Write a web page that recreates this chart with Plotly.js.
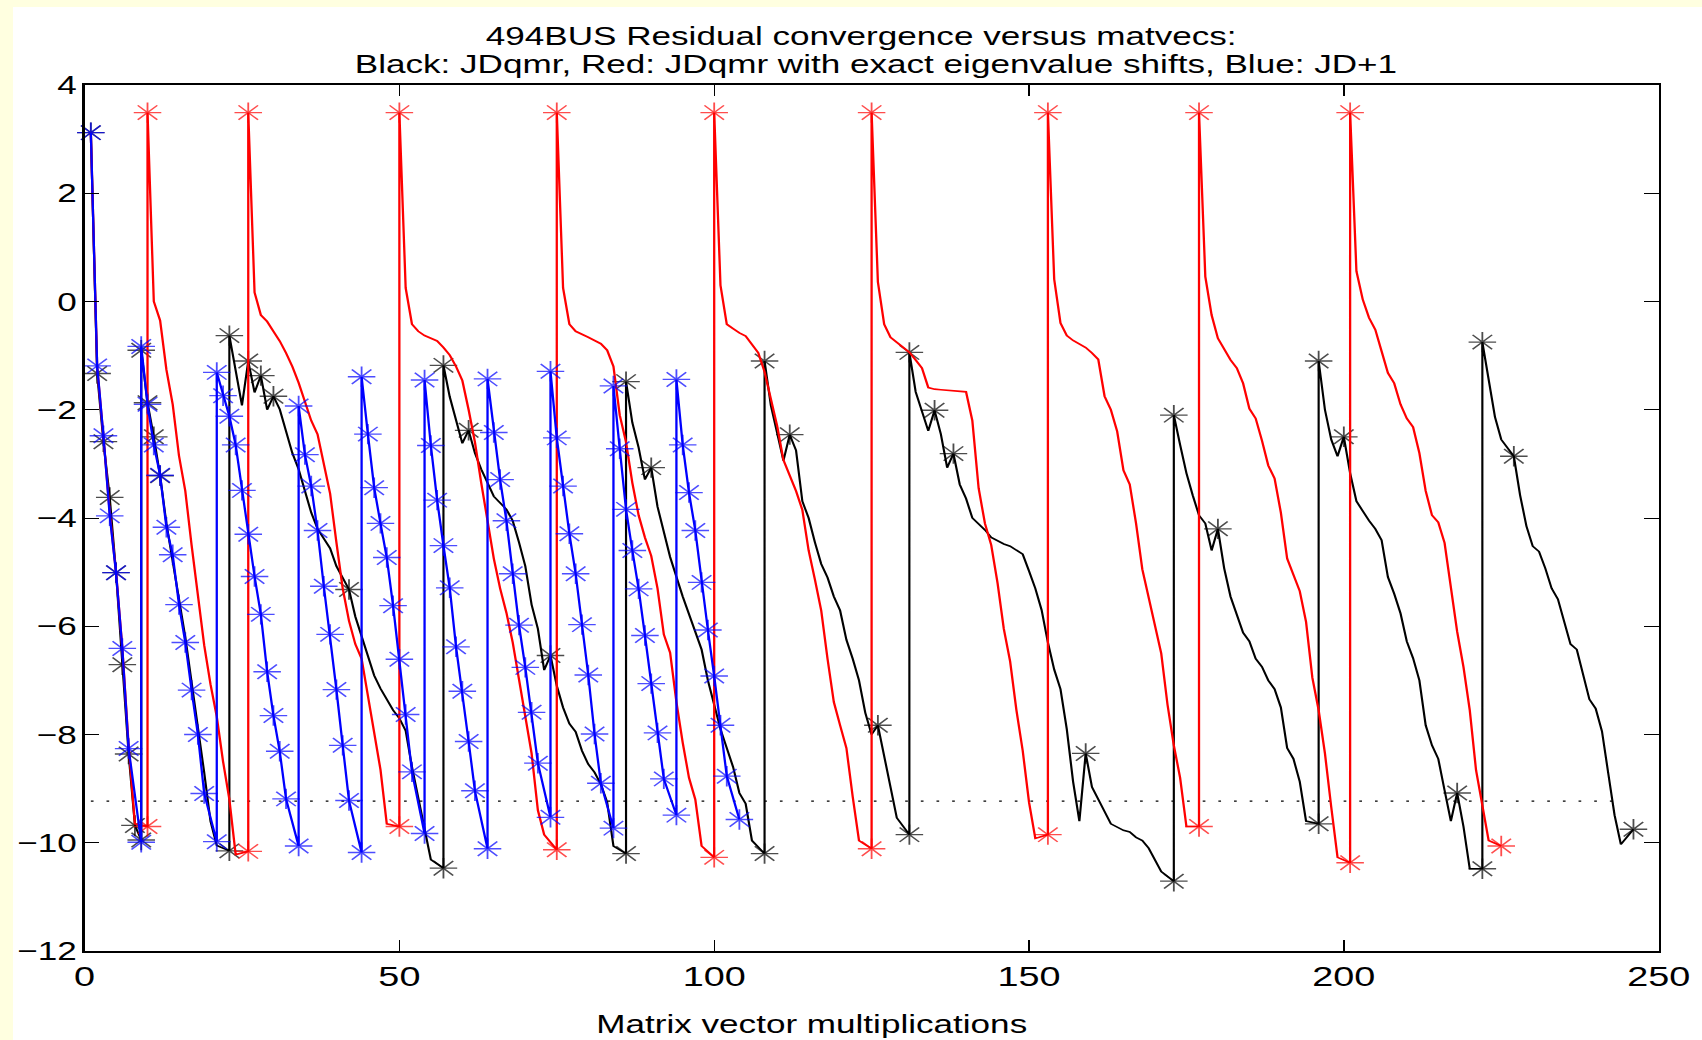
<!DOCTYPE html>
<html><head><meta charset="utf-8">
<script src="https://cdn.plot.ly/plotly-3.0.1.min.js"></script>
<style>
html,body{margin:0;padding:0;background:#ffffe0;width:1702px;height:1040px;overflow:hidden}
#frame{position:absolute;left:13px;top:7px;width:1689px;height:1033px;background:#fff;overflow:hidden}
#chart{width:1251px;height:1033px;transform:scaleX(1.35);transform-origin:0 0}
</style></head><body>
<div id="frame"><div id="chart"></div></div>
<script>
// ---- data (matvec count, log10 residual) ----
const titleLine1 = '494BUS Residual convergence versus matvecs:';
const titleLine2 = 'Black: JDqmr, Red: JDqmr with exact eigenvalue shifts, Blue: JD+1';
const xLabel = 'Matrix vector multiplications';
const xTicks = [0, 50, 100, 150, 200, 250];
const yTicks = [-12, -10, -8, -6, -4, -2, 0, 2, 4];

// convergence tolerance line
const tolX = [1, 244];
const tolY = [-9.23, -9.23];

// Black: JDqmr
const blackX = [1,2,3,4,5,6,7,8,9,
 9,10,11,12,13,14,15,16,17,18,19,20,21,23,
 23,25,26,27,28,29,30,31,32,33,34,35,36,37,39,40,42,43,44,45,46,47,48,49,50,51,52,53,54,55,57,
 57,58,59,60,61,62,63,64,65,67,68,69,70,71,72,73,74,75,76,77,78,79,80,81,82,83,84,86,
 86,87,88,89,90,91,93,95,97,98,99,100,101,103,104,105,106,108,
 108,109,111,112,113,114,115,116,117,118,119,120,121,122,123,124,125,126,127,128,129,131,
 131,132,134,135,136,137,138,139,140,141,143,144,146,147,149,150,151,152,153,154,155,156,157,158,159,160,161,162,163,165,166,167,168,169,170,171,173,
 173,174,175,176,177,178,179,180,181,182,183,184,185,186,187,188,189,190,191,192,193,194,196,
 196,197,198,199,200,201,202,204,205,206,207,208,209,210,211,212,213,214,215,216,217,218,219,220,222,
 222,223,224,225,227,228,229,230,231,232,233,234,235,236,237,238,239,240,241,242,243,244,246];
const blackY = [3.12,-1.33,-2.59,-3.62,-5.01,-6.71,-8.36,-9.68,-9.95,
 -0.9,-1.87,-2.5,-3.22,-4.1,-4.75,-5.5,-6.2,-7.0,-7.9,-8.7,-9.6,-10.05,-10.15,
 -0.63,-1.92,-1.1,-1.68,-1.37,-2.0,-1.75,-1.99,-2.38,-2.8,-3.1,-3.5,-3.9,-4.2,-4.56,-4.89,-5.32,-5.82,-6.2,-6.55,-6.91,-7.15,-7.35,-7.55,-7.7,-7.93,-8.6,-9.2,-9.75,-10.31,-10.47,
 -1.18,-1.76,-2.22,-2.62,-2.38,-2.8,-3.1,-3.34,-3.6,-3.84,-4.05,-4.45,-4.89,-5.6,-6.05,-6.81,-6.54,-7.1,-7.5,-7.8,-7.95,-8.3,-8.55,-8.7,-8.92,-9.25,-10.06,-10.2,
 -1.48,-2.24,-2.7,-3.29,-3.07,-3.79,-4.72,-5.45,-6.07,-6.43,-7.0,-7.45,-7.9,-8.6,-9.08,-9.28,-9.96,-10.2,
 -1.1,-1.92,-2.94,-2.46,-2.75,-3.69,-4.0,-4.45,-4.85,-5.1,-5.45,-5.71,-6.25,-6.6,-7.0,-7.6,-8.0,-7.83,-8.4,-9.03,-9.54,-9.85,
 -0.94,-1.67,-2.39,-2.01,-2.45,-3.07,-2.81,-3.38,-3.64,-4.0,-4.22,-4.36,-4.48,-4.52,-4.67,-4.98,-5.3,-5.7,-6.3,-6.8,-7.16,-7.9,-8.87,-9.6,-8.35,-8.97,-9.2,-9.45,-9.65,-9.77,-9.8,-9.9,-9.96,-10.1,-10.3,-10.53,-10.71,
 -2.1,-2.65,-3.17,-3.58,-3.95,-4.1,-4.6,-4.2,-4.93,-5.45,-5.8,-6.12,-6.28,-6.6,-6.75,-7.0,-7.16,-7.5,-8.25,-8.45,-8.87,-9.6,-9.65,
 -1.1,-2.0,-2.55,-2.86,-2.5,-3.17,-3.69,-4.05,-4.2,-4.41,-5.09,-5.4,-5.76,-6.28,-6.59,-7.0,-7.83,-8.2,-8.45,-9.03,-9.6,-9.08,-9.7,-10.48,-10.48,
 -0.75,-1.41,-2.13,-2.55,-2.86,-3.58,-4.15,-4.52,-4.62,-4.93,-5.3,-5.5,-5.95,-6.33,-6.43,-6.9,-7.35,-7.52,-7.94,-8.72,-9.49,-10.03,-9.75];
// black points carrying a star besides the restart (vertical) ends
const blackStarX = [1,2,3,4,5,6,7,8,10,11,12,26,28,30,42,61,74,90,112,126,135,138,159,180,200,218,227,246];

// Red: JDqmr with exact eigenvalue shifts
const redX = [1,2,3,4,5,6,7,8,10,
 10,11,12,13,14,15,16,17,18,19,20,21,22,23,24,26,
 26,27,28,29,30,31,32,33,34,35,36,37,38,39,40,41,42,43,44,45,46,47,48,50,
 50,51,52,53,54,55,56,57,58,59,60,61,62,63,64,65,66,67,68,69,70,71,72,73,75,
 75,76,77,78,79,80,81,82,83,84,85,86,87,88,89,90,91,92,93,94,95,96,97,98,100,
 100,101,102,103,104,105,106,107,108,109,110,111,112,113,114,115,116,117,118,119,120,121,122,123,125,
 125,126,127,128,129,130,131,132,133,134,135,136,137,138,139,140,141,142,143,144,145,146,147,148,149,150,151,153,
 153,154,155,156,157,158,159,160,161,162,163,164,165,166,167,168,169,170,171,172,173,174,175,177,
 177,178,179,180,181,182,183,184,185,186,187,188,189,190,191,192,193,194,195,196,197,198,199,201,
 201,202,203,204,205,206,207,208,209,210,211,212,213,214,215,216,217,218,219,220,221,222,223,225];
const redY = [3.12,-1.2,-2.5,-3.9,-5.0,-6.4,-8.2,-9.65,-9.7,
 3.49,0.0,-0.35,-1.26,-1.9,-2.85,-3.5,-4.5,-5.49,-6.35,-7.07,-7.67,-8.5,-9.2,-10.22,-10.16,
 3.49,0.17,-0.25,-0.37,-0.55,-0.73,-0.95,-1.2,-1.5,-1.85,-2.2,-2.45,-2.98,-3.55,-4.45,-5.3,-5.9,-6.33,-6.6,-7.3,-7.95,-8.65,-9.65,-9.7,
 3.49,0.25,-0.42,-0.55,-0.63,-0.68,-0.73,-0.85,-0.99,-1.2,-1.46,-2.0,-2.6,-3.35,-4.1,-4.75,-5.3,-5.75,-6.3,-6.95,-7.63,-8.35,-9.4,-9.85,-10.13,
 3.49,0.25,-0.42,-0.55,-0.6,-0.66,-0.72,-0.78,-0.9,-1.2,-2.1,-2.6,-3.35,-3.95,-4.36,-4.7,-5.3,-6.15,-6.49,-7.4,-8.15,-8.8,-9.2,-10.06,-10.27,
 3.49,0.3,-0.42,-0.5,-0.58,-0.64,-0.8,-0.95,-1.3,-1.82,-2.3,-2.93,-3.2,-3.5,-3.85,-4.6,-5.14,-5.71,-6.6,-7.4,-7.83,-8.25,-9.15,-9.96,-10.11,
 3.49,0.36,-0.42,-0.66,-0.76,-0.86,-0.94,-1.08,-1.23,-1.59,-1.62,-1.63,-1.64,-1.65,-1.66,-1.67,-2.2,-3.45,-4.1,-4.5,-5.2,-6.05,-6.65,-7.55,-8.3,-9.25,-9.92,-9.85,
 3.49,0.41,-0.4,-0.63,-0.72,-0.78,-0.85,-0.95,-1.07,-1.75,-2.0,-2.4,-3.12,-3.38,-4.1,-4.95,-5.45,-6.0,-6.5,-7.45,-8.2,-8.8,-9.7,-9.7,
 3.49,0.46,-0.25,-0.68,-0.88,-1.08,-1.23,-1.51,-1.98,-2.16,-2.57,-3.03,-3.27,-3.9,-4.75,-5.05,-5.35,-5.92,-6.95,-7.55,-8.35,-9.34,-10.27,-10.37,
 3.49,0.56,0.04,-0.3,-0.52,-0.92,-1.32,-1.51,-1.9,-2.16,-2.32,-2.8,-3.5,-3.95,-4.08,-4.46,-5.24,-6.1,-6.75,-7.55,-8.66,-9.28,-9.96,-10.06];
const redStarX = [225];

// Blue: JD+1 (every point starred)
const blueX = [1,2,3,4,5,6,7,9,
 9,10,11,12,13,14,15,16,17,18,19,21,
 21,22,23,24,25,26,27,28,29,30,31,32,34,
 34,35,36,37,38,39,40,41,42,44,
 44,45,46,47,48,49,50,51,52,54,
 54,55,56,57,58,59,60,61,62,64,
 64,65,66,67,68,69,70,71,72,74,
 74,75,76,77,78,79,80,81,82,84,
 84,85,86,87,88,89,90,91,92,94,
 94,95,96,97,98,99,100,101,102,104];
const blueY = [3.12,-1.19,-2.48,-3.96,-5.01,-6.41,-8.26,-9.99,
 -0.83,-1.9,-2.65,-3.21,-4.17,-4.68,-5.6,-6.3,-7.18,-8.0,-9.09,-9.98,
 -1.31,-1.74,-2.12,-2.65,-3.49,-4.3,-5.08,-5.78,-6.84,-7.65,-8.31,-9.19,-10.06,
 -1.93,-2.83,-3.41,-4.23,-5.26,-6.15,-7.17,-8.2,-9.22,-10.18,
 -1.39,-2.45,-3.44,-4.1,-4.73,-5.62,-6.61,-7.63,-8.69,-9.83,
 -1.45,-2.66,-3.67,-4.51,-5.29,-6.38,-7.2,-8.13,-9.04,-10.11,
 -1.43,-2.42,-3.29,-4.05,-5.03,-5.98,-6.76,-7.59,-8.53,-9.53,
 -1.29,-2.52,-3.41,-4.29,-5.03,-5.97,-6.9,-7.99,-8.9,-9.73,
 -1.56,-2.72,-3.84,-4.6,-5.31,-6.17,-7.06,-7.97,-8.82,-9.49,
 -1.44,-2.65,-3.53,-4.23,-5.19,-6.07,-6.92,-7.83,-8.77,-9.57];

// ---- drawing ----
const FONT = '"Liberation Sans", Arial, Helvetica, sans-serif';
const STAR = 17;

function starSizes(xs, extra, all) {
  return xs.map((x, i) => {
    if (all) return STAR;
    const vert = (i > 0 && xs[i - 1] === x) || (i < xs.length - 1 && xs[i + 1] === x);
    return (vert || extra.includes(x)) ? STAR : 0;
  });
}

function series(xs, ys, color, width, sizes, name) {
  return {
    type: 'scatter', mode: 'lines+markers', name: name,
    x: xs, y: ys,
    line: {color: color, width: width},
    marker: {symbol: 'asterisk-open', size: sizes, color: color, line: {color: color, width: 1.35}},
    cliponaxis: false
  };
}

const traces = [
  {type: 'scatter', mode: 'lines', x: tolX, y: tolY, name: 'tol',
   line: {color: '#000', width: 1.2, dash: '2px,9.6px'}},
  series(blackX, blackY, '#000000', 1.6, starSizes(blackX, blackStarX, false), 'JDqmr'),
  series(redX, redY, '#ff0000', 1.7, starSizes(redX, redStarX, false), 'JDqmr exact shifts'),
  series(blueX, blueY, '#0000ff', 1.7, starSizes(blueX, [], true), 'JD+1')
];

const axisCommon = {
  showgrid: false, zeroline: false, showline: true, linecolor: '#000', linewidth: 1.6,
  ticks: 'inside', ticklen: 11, tickwidth: 1, tickcolor: '#000', mirror: 'ticks'
};

const layout = {
  width: 1251, height: 1033,
  margin: {l: 53, r: 32, t: 78, b: 89, pad: 0},
  paper_bgcolor: '#ffffff', plot_bgcolor: '#ffffff',
  showlegend: false,
  font: {family: FONT, color: '#000'},
  title: {
    text: titleLine1,
    font: {family: FONT, size: 26, color: '#000'},
    x: 0.4934, xref: 'paper', xanchor: 'center',
    y: 0.9719, yref: 'container', yanchor: 'middle'
  },
  annotations: [
    {text: titleLine2, xref: 'paper', yref: 'paper', x: 0.5025, y: 1.0242,
     xanchor: 'center', yanchor: 'middle', showarrow: false,
     font: {family: FONT, size: 26, color: '#000'}},
    {text: xLabel, xref: 'paper', yref: 'paper', x: 0.4622, y: -0.0839,
     xanchor: 'center', yanchor: 'middle', showarrow: false,
     font: {family: FONT, size: 26, color: '#000'}}
  ],
  xaxis: Object.assign({}, axisCommon, {
    range: [0, 250], tickvals: xTicks, ticktext: xTicks.map(String),
    tickfont: {family: FONT, size: 28, color: '#000'}
  }),
  yaxis: Object.assign({}, axisCommon, {
    range: [-12, 4], tickvals: yTicks,
    tickfont: {family: FONT, size: 26, color: '#000'},
    ticklabelstandoff: -1
  })
};

Plotly.newPlot('chart', traces, layout, {staticPlot: true, displayModeBar: false});
</script></body></html>
